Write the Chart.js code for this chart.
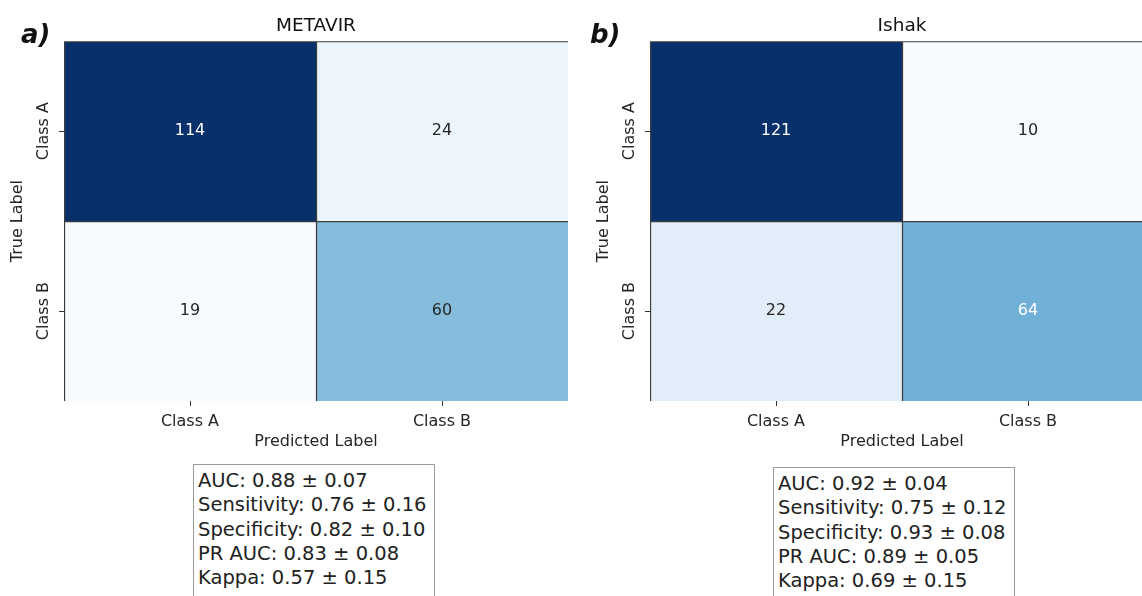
<!DOCTYPE html>
<html lang="en">
<head>
    <meta charset="UTF-8">
    <title>Confusion matrices - METAVIR / Ishak</title>
    <script src="https://cdn.jsdelivr.net/npm/chart.js"></script>
    <style>
        html, body {
            margin: 0;
            padding: 0;
            background: #fff;
            overflow: hidden;
            width: 1142px;
            height: 596px;
        }
        .panel {
            position: absolute;
            top: 0;
        }
        .tag {
            position: absolute;
            font-family: 'DejaVu Sans', sans-serif;
            font-weight: 700;
            font-style: italic;
            font-size: 26px;
            line-height: 1;
            color: #111;
        }
        .stats {
            position: absolute;
            box-sizing: border-box;
            width: 242px;
            height: 160px;
            border: 1.5px solid #9a9a9a;
            padding: 4px 0 0 4px;
            font-family: 'DejaVu Sans', sans-serif;
            font-size: 19.5px;
            line-height: 24.3px;
            color: #222;
            white-space: pre;
        }
    </style>
</head>
<body>
    <canvas id="metavirChart" class="panel" style="left:0px" width="570" height="460"></canvas>
    <canvas id="ishakChart" class="panel" style="left:586px" width="570" height="460"></canvas>
    <div class="tag" style="left:21px; top:21px">a)</div>
    <div class="tag" style="left:590px; top:21px">b)</div>
    <div class="stats" id="metavir-stats" style="left:193px; top:464px"></div>
    <div class="stats" id="ishak-stats" style="left:773px; top:467px"></div>

    <script>
        const classes = ['Class A', 'Class B'];

        // rows = true label, columns = predicted label
        const metavirCounts = [[114, 24], [19, 60]];
        const ishakCounts = [[121, 10], [22, 64]];

        const metricNames = ['AUC', 'Sensitivity', 'Specificity', 'PR AUC', 'Kappa'];
        const metavirMean = ['0.88', '0.76', '0.82', '0.83', '0.57'];
        const metavirSd = ['0.07', '0.16', '0.10', '0.08', '0.15'];
        const ishakMean = ['0.92', '0.75', '0.93', '0.89', '0.69'];
        const ishakSd = ['0.04', '0.12', '0.08', '0.05', '0.15'];

        // matplotlib "Blues"
        const blues = [[247,251,255],[222,235,247],[198,219,239],[158,202,225],[107,174,214],
                       [66,146,198],[33,113,181],[8,81,156],[8,48,107]];

        function bluesAt(t) {
            t = Math.max(0, Math.min(1, t));
            const pos = t * (blues.length - 1);
            const i = Math.min(Math.floor(pos), blues.length - 2);
            const f = pos - i;
            return blues[i].map((c, k) => Math.round(c + (blues[i + 1][k] - c) * f));
        }

        function luminance(rgb) {
            const lin = rgb.map(v => {
                v = v / 255;
                return v <= 0.03928 ? v / 12.92 : Math.pow((v + 0.055) / 1.055, 2.4);
            });
            return 0.2126 * lin[0] + 0.7152 * lin[1] + 0.0722 * lin[2];
        }

        const textFont = "'DejaVu Sans', sans-serif";
        const inkColor = '#262626';

        const cellLabels = {
            id: 'cellLabels',
            afterDatasetsDraw(chart) {
                const ctx = chart.ctx;
                const counts = chart.options.plugins.cellLabels.counts;
                ctx.save();
                ctx.font = '16px ' + textFont;
                ctx.textAlign = 'center';
                ctx.textBaseline = 'middle';
                chart.data.datasets.forEach((ds, i) => {
                    chart.getDatasetMeta(i).data.forEach((bar, j) => {
                        const p = bar.getCenterPoint();
                        ctx.fillStyle = ds.textColors[j];
                        ctx.fillText(String(counts[i][j]), p.x, p.y);
                    });
                });
                ctx.restore();
            }
        };

        function makeMatrix(canvasId, title, counts) {
            const flat = counts.flat();
            const vmin = Math.min(...flat);
            const vmax = Math.max(...flat);

            const datasets = counts.map((row, i) => {
                const rgbs = row.map(v => bluesAt((v - vmin) / (vmax - vmin)));
                return {
                    label: classes[i],
                    data: row.map(() => [i, i + 1]),
                    backgroundColor: rgbs.map(c => `rgb(${c[0]},${c[1]},${c[2]})`),
                    textColors: rgbs.map(c => luminance(c) > 0.408 ? inkColor : '#ffffff'),
                    borderColor: '#3c3c3c',
                    borderWidth: { top: 1.5, left: 1.5, right: 0, bottom: 0 },
                    borderSkipped: false,
                    barPercentage: 1,
                    categoryPercentage: 1,
                    grouped: false
                };
            });

            return new Chart(document.getElementById(canvasId), {
                type: 'bar',
                data: { labels: classes, datasets },
                plugins: [cellLabels],
                options: {
                    responsive: false,
                    animation: false,
                    devicePixelRatio: 1,
                    layout: { padding: { left: 0, right: 2, top: 0, bottom: 0 } },
                    scales: {
                        x: {
                            type: 'category',
                            afterFit: s => { s.height = 59; },
                            grid: {
                                offset: false,
                                drawOnChartArea: false,
                                drawTicks: true,
                                tickLength: 5,
                                tickColor: '#333'
                            },
                            border: { display: false },
                            ticks: {
                                color: inkColor,
                                font: { family: textFont, size: 16 },
                                padding: 6,
                                maxRotation: 0
                            },
                            title: {
                                display: true,
                                text: 'Predicted Label',
                                color: inkColor,
                                font: { family: textFont, size: 16 },
                                padding: { top: 0, bottom: 9 }
                            }
                        },
                        y: {
                            type: 'linear',
                            min: 0,
                            max: 2,
                            reverse: true,
                            afterFit: s => { s.width = 64; },
                            afterBuildTicks: s => { s.ticks = classes.map((c, i) => ({ value: i + 0.5 })); },
                            grid: {
                                drawOnChartArea: false,
                                drawTicks: true,
                                tickLength: 5,
                                tickColor: '#333'
                            },
                            border: { display: false },
                            ticks: {
                                color: inkColor,
                                font: { family: textFont, size: 16 },
                                minRotation: 90,
                                maxRotation: 90,
                                crossAlign: 'center',
                                padding: -14,
                                callback: v => classes[Math.floor(v)]
                            },
                            title: {
                                display: true,
                                text: 'True Label',
                                color: inkColor,
                                font: { family: textFont, size: 16 },
                                padding: { top: 8, bottom: 0 }
                            }
                        }
                    },
                    plugins: {
                        legend: { display: false },
                        tooltip: { enabled: false },
                        title: {
                            display: true,
                            text: title,
                            fullSize: false,
                            color: '#111',
                            font: { family: textFont, size: 18.5, weight: 'normal' },
                            padding: { top: 15, bottom: 4 }
                        },
                        cellLabels: { counts }
                    }
                }
            });
        }

        function fillStats(id, means, sds) {
            document.getElementById(id).textContent =
                metricNames.map((m, i) => `${m}: ${means[i]} \u00b1 ${sds[i]}`).join('\n');
        }

        makeMatrix('metavirChart', 'METAVIR', metavirCounts);
        makeMatrix('ishakChart', 'Ishak', ishakCounts);
        fillStats('metavir-stats', metavirMean, metavirSd);
        fillStats('ishak-stats', ishakMean, ishakSd);
    </script>
</body>
</html>
